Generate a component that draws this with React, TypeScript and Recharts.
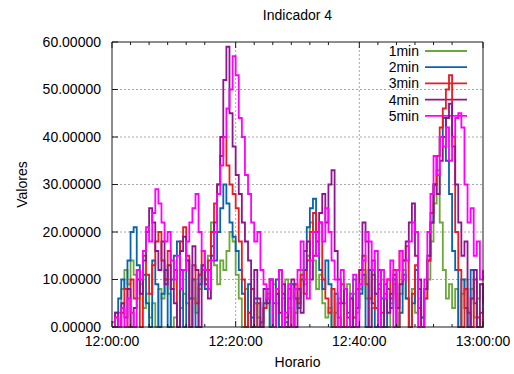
import React from 'react';
import { LineChart, Line, XAxis, YAxis, CartesianGrid } from 'recharts';

// ---- chart data -----------------------------------------------------------
const SERIES_NAMES = ['1min', '2min', '3min', '4min', '5min'];
const SERIES_KEYS = ['m1', 'm2', 'm3', 'm4', 'm5'];
const SERIES_COLORS = ['#6aa83a', '#0863b0', '#e81c22', '#8e1490', '#ff00ff'];

// samples every 30 s from 12:00:00 to 13:00:00
const SAMPLE_STEP_S = 30;

const VALUES_1MIN = [
  1, 0, 3, 8, 12, 9, 14, 11, 6, 9,
  4, 7, 2, 5, 0, 8, 6, 10, 7, 0,
  2, 0, 4, 7, 5, 0, 6, 3, 8, 12,
  10, 15, 22, 13, 9, 14, 12, 16, 20, 18,
  11, 6, 0, 8, 3, 0, 5, 2, 0, 4,
  7, 0, 9, 5, 0, 6, 10, 4, 0, 3,
  6, 12, 9, 15, 22, 14, 8, 11, 5, 2,
  4, 0, 3, 6, 0, 5, 9, 0, 7, 3,
  8, 12, 6, 0, 4, 7, 0, 10, 6, 0,
  5, 9, 0, 7, 12, 6, 0, 8, 3, 6,
  2, 6, 10, 18, 26, 33, 22, 12, 6, 9,
  4, 8, 0, 7, 10, 0, 8, 2, 6, 9, 5,
];

const VALUES_2MIN = [
  0, 3, 6, 10, 8, 14, 20, 21, 13, 7,
  11, 5, 0, 14, 9, 0, 7, 12, 0, 10,
  15, 18, 12, 0, 14, 6, 10, 0, 9, 13,
  8, 12, 17, 14, 20, 25, 30, 26, 22, 19,
  16, 12, 7, 0, 9, 2, 6, 0, 1, 5,
  8, 0, 5, 10, 0, 7, 1, 0, 9, 6,
  4, 10, 16, 21, 25, 27, 18, 12, 8, 14,
  9, 0, 7, 2, 0, 8, 3, 0, 10, 4,
  7, 11, 0, 12, 5, 0, 9, 6, 0, 8,
  4, 10, 0, 3, 11, 6, 0, 5, 12, 8,
  2, 8, 14, 22, 30, 36, 40, 44, 35, 28,
  16, 12, 0, 10, 4, 0, 12, 5, 0, 3, 7,
];

const VALUES_3MIN = [
  0, 2, 0, 3, 8, 0, 10, 6, 12, 0,
  15, 11, 7, 13, 18, 20, 14, 10, 16, 8,
  12, 0, 18, 21, 15, 0, 13, 5, 11, 16,
  10, 14, 20, 26, 30, 36, 40, 34, 30, 28,
  25, 18, 10, 0, 3, 8, 0, 5, 0, 4,
  6, 10, 0, 7, 12, 0, 2, 8, 0, 9,
  5, 11, 7, 14, 20, 24, 18, 22, 10, 6,
  3, 8, 0, 5, 9, 0, 0, 6, 2, 8,
  12, 15, 9, 6, 11, 4, 8, 3, 7, 10,
  6, 12, 0, 16, 14, 17, 0, 7, 13, 4,
  0, 6, 14, 24, 30, 36, 42, 46, 50, 53,
  40, 20, 12, 0, 8, 3, 0, 10, 2, 0, 4,
];

const VALUES_4MIN = [
  0, 3, 0, 5, 2, 8, 0, 4, 10, 7,
  14, 20, 25, 22, 16, 12, 18, 9, 13, 8,
  5, 0, 16, 19, 14, 0, 17, 12, 0, 13,
  9, 6, 15, 22, 30, 40, 52, 59, 45, 38,
  32, 28, 22, 18, 14, 0, 12, 6, 0, 8,
  5, 10, 0, 7, 3, 9, 0, 6, 10, 0,
  8, 3, 12, 18, 10, 15, 20, 24, 28, 22,
  30, 33, 16, 10, 5, 8, 2, 6, 0, 4,
  12, 22, 18, 0, 14, 7, 12, 0, 9, 3,
  7, 11, 4, 9, 14, 18, 22, 26, 15, 10,
  0, 8, 15, 22, 30, 28, 35, 40, 44, 47,
  38, 30, 22, 15, 18, 0, 6, 12, 0, 9, 5,
];

const VALUES_5MIN = [
  0, 2, 0, 4, 0, 6, 3, 0, 12, 10,
  16, 21, 18, 24, 29, 26, 22, 18, 20, 14,
  10, 15, 8, 12, 18, 22, 25, 28, 20, 16,
  12, 8, 14, 20, 28, 34, 40, 46, 50, 57,
  53, 44, 40, 32, 28, 22, 18, 20, 12, 9,
  6, 10, 0, 8, 12, 0, 3, 9, 0, 8,
  12, 18, 10, 6, 14, 20, 15, 22, 18, 25,
  20, 14, 10, 0, 12, 8, 0, 7, 11, 0,
  9, 14, 20, 18, 12, 16, 0, 12, 6, 10,
  14, 0, 12, 16, 10, 14, 18, 22, 20, 0,
  0, 10, 20, 28, 36, 32, 40, 38, 42, 35,
  40, 44, 45, 42, 30, 22, 25, 15, 18, 10, 12,
];

const SERIES_VALUES = [VALUES_1MIN, VALUES_2MIN, VALUES_3MIN, VALUES_4MIN, VALUES_5MIN];

// axis ticks (seconds after 12:00:00 on x)
const X_MAJOR_TICKS = [0, 1200, 2400, 3600];
const X_MINOR_TICKS = [
  180, 360, 540, 720, 900,
  1380, 1560, 1740, 1920, 2100,
  2580, 2760, 2940, 3120, 3300,
];
const Y_TICKS = [0, 10, 20, 30, 40, 50, 60];
const Y_GRID = [10, 20, 30, 40, 50];
const X_GRID = [1200, 2400];

const TITLE = 'Indicador 4';
const X_TITLE = 'Horario';
const Y_TITLE = 'Valores';

// ---- layout ---------------------------------------------------------------
const W = 514;
const H = 374;
const LEFT_AXIS_W = 112;
const RIGHT_AXIS_W = 31;
const TOP_AXIS_H = 42;
const BOTTOM_AXIS_H = 47;
const PLOT_LEFT = LEFT_AXIS_W;
const PLOT_RIGHT = W - RIGHT_AXIS_W;
const PLOT_TOP = TOP_AXIS_H;
const PLOT_BOTTOM = H - BOTTOM_AXIS_H;

const FONT = '"Liberation Sans", Arial, Helvetica, sans-serif';
const FONT_SIZE = 14;
const FRAME = '#1a1a1a';
const MAJOR_LEN = 6;
const MINOR_LEN = 3;
const LINE_W = 1.8;

const data = VALUES_1MIN.map((_, i) => {
  const row: Record<string, number> = { t: i * SAMPLE_STEP_S };
  SERIES_KEYS.forEach((k, s) => {
    row[k] = SERIES_VALUES[s][i];
  });
  return row;
});

const pad2 = (n: number) => String(n).padStart(2, '0');
const formatClock = (sec: number) => {
  const total = 12 * 3600 + sec;
  const h = Math.floor(total / 3600);
  const m = Math.floor((total % 3600) / 60);
  const s = total % 60;
  return `${h}:${pad2(m)}:${pad2(s)}`;
};

const isMajorX = (v: number) => X_MAJOR_TICKS.includes(v);

const BottomTick = (props: any) => {
  const { x, y, payload } = props;
  const major = isMajorX(payload.value);
  return (
    <g>
      <line x1={x} x2={x} y1={y} y2={y - (major ? MAJOR_LEN : MINOR_LEN)} stroke={FRAME} strokeWidth={1} />
      {major && (
        <text x={x} y={y + 9} dy="0.71em" textAnchor="middle" fontFamily={FONT} fontSize={FONT_SIZE} fill="#000">
          {formatClock(payload.value)}
        </text>
      )}
    </g>
  );
};

const TopTick = (props: any) => {
  const { x, y, payload } = props;
  const major = isMajorX(payload.value);
  return <line x1={x} x2={x} y1={y} y2={y + (major ? MAJOR_LEN : MINOR_LEN)} stroke={FRAME} strokeWidth={1} />;
};

const LeftTick = (props: any) => {
  const { x, y, payload } = props;
  return (
    <g>
      <line x1={x} x2={x + MAJOR_LEN} y1={y} y2={y} stroke={FRAME} strokeWidth={1} />
      <text x={x - 11} y={y} dy="0.35em" textAnchor="end" fontFamily={FONT} fontSize={FONT_SIZE} fill="#000">
        {Number(payload.value).toFixed(5)}
      </text>
    </g>
  );
};

const RightTick = (props: any) => {
  const { x, y } = props;
  return <line x1={x} x2={x - MAJOR_LEN} y1={y} y2={y} stroke={FRAME} strokeWidth={1} />;
};

const TitleLabel = () => (
  <text x={(PLOT_LEFT + PLOT_RIGHT) / 2} y={15} dy="0.35em" textAnchor="middle" fontFamily={FONT} fontSize={FONT_SIZE} fill="#000">
    {TITLE}
  </text>
);

const XTitleLabel = () => (
  <text x={(PLOT_LEFT + PLOT_RIGHT) / 2} y={PLOT_BOTTOM + 35} dy="0.35em" textAnchor="middle" fontFamily={FONT} fontSize={FONT_SIZE} fill="#000">
    {X_TITLE}
  </text>
);

const YTitleLabel = () => {
  const cx = 22;
  const cy = (PLOT_TOP + PLOT_BOTTOM) / 2;
  return (
    <text x={cx} y={cy} dy="0.35em" textAnchor="middle" transform={`rotate(-90 ${cx} ${cy})`} fontFamily={FONT} fontSize={FONT_SIZE} fill="#000">
      {Y_TITLE}
    </text>
  );
};

// Key drawn underneath the chart surface so that the data lines pass over it.
const KEY_TEXT_RIGHT = 419;
const KEY_LINE_X1 = 425;
const KEY_LINE_X2 = 467;
const KEY_TOP = 51;
const KEY_ROW = 16.2;

const Key = () => (
  <svg width={W} height={H} style={{ position: 'absolute', left: 0, top: 0 }}>
    {SERIES_NAMES.map((name, i) => {
      const y = KEY_TOP + i * KEY_ROW;
      return (
        <g key={name}>
          <text x={KEY_TEXT_RIGHT} y={y} dy="0.35em" textAnchor="end" fontFamily={FONT} fontSize={FONT_SIZE} fill="#000">
            {name}
          </text>
          <line x1={KEY_LINE_X1} x2={KEY_LINE_X2} y1={y} y2={y} stroke={SERIES_COLORS[i]} strokeWidth={LINE_W} />
        </g>
      );
    })}
  </svg>
);

export default function App() {
  const allXTicks = [...X_MAJOR_TICKS, ...X_MINOR_TICKS].sort((a, b) => a - b);
  return (
    <div style={{ position: 'absolute', left: 0, top: 0, width: W, height: H, background: '#fff' }}>
      <Key />
      <div style={{ position: 'absolute', left: 0, top: 0 }}>
        <LineChart width={W} height={H} data={data} margin={{ top: 0, right: 0, bottom: 0, left: 0 }}>
          <CartesianGrid
            stroke="#a8a8a8"
            strokeDasharray="2 2"
            horizontalValues={Y_GRID}
            verticalValues={X_GRID}
          />
          <XAxis
            dataKey="t"
            type="number"
            domain={[0, 3600]}
            ticks={allXTicks}
            interval={0}
            tick={<BottomTick />}
            tickLine={false}
            tickSize={0}
            tickMargin={0}
            height={BOTTOM_AXIS_H}
            axisLine={{ stroke: FRAME }}
            label={<XTitleLabel />}
          />
          <XAxis
            xAxisId="top"
            orientation="top"
            dataKey="t"
            type="number"
            domain={[0, 3600]}
            ticks={allXTicks}
            interval={0}
            tick={<TopTick />}
            tickLine={false}
            tickSize={0}
            tickMargin={0}
            height={TOP_AXIS_H}
            axisLine={{ stroke: FRAME }}
            label={<TitleLabel />}
          />
          <YAxis
            type="number"
            domain={[0, 60]}
            ticks={Y_TICKS}
            interval={0}
            tick={<LeftTick />}
            tickLine={false}
            tickSize={0}
            tickMargin={0}
            width={LEFT_AXIS_W}
            axisLine={{ stroke: FRAME }}
            label={<YTitleLabel />}
          />
          <YAxis
            yAxisId="right"
            orientation="right"
            type="number"
            domain={[0, 60]}
            ticks={Y_TICKS}
            interval={0}
            tick={<RightTick />}
            tickLine={false}
            tickSize={0}
            tickMargin={0}
            width={RIGHT_AXIS_W}
            axisLine={{ stroke: FRAME }}
          />
          {SERIES_KEYS.map((k, i) => (
            <Line
              key={k}
              dataKey={k}
              name={SERIES_NAMES[i]}
              type="stepAfter"
              stroke={SERIES_COLORS[i]}
              strokeWidth={LINE_W}
              dot={false}
              activeDot={false}
              isAnimationActive={false}
            />
          ))}
        </LineChart>
      </div>
    </div>
  );
}
